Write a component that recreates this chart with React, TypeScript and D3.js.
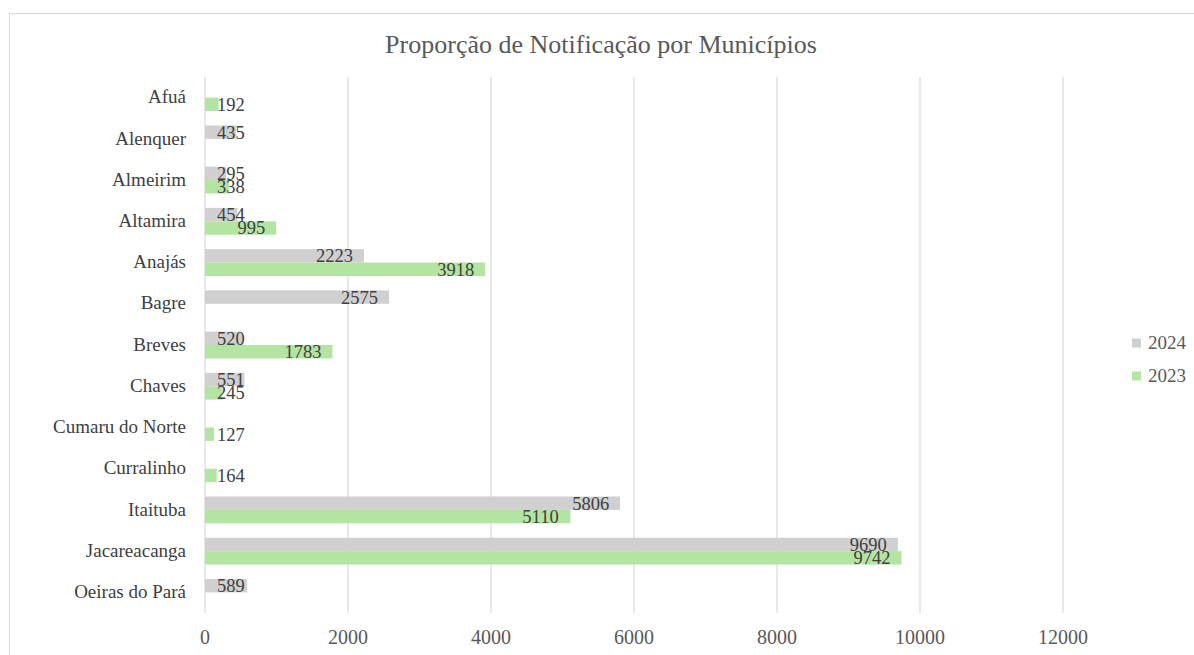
import React from 'react';
import * as d3 from 'd3';

const municipios = [
  'Afuá', 'Alenquer', 'Almeirim', 'Altamira', 'Anajás', 'Bagre', 'Breves',
  'Chaves', 'Cumaru do Norte', 'Curralinho', 'Itaituba', 'Jacareacanga', 'Oeiras do Pará',
];
// null = no bar for that year
const v2024 = [null, 435, 295, 454, 2223, 2575, 520, 551, null, null, 5806, 9690, 589];
const v2023 = [192, null, 338, 995, 3918, null, 1783, 245, 127, 164, 5110, 9742, null];
const ticks = [0, 2000, 4000, 6000, 8000, 10000, 12000];
const series = [
  { name: '2024', values: v2024, color: '#d0d0d0' },
  { name: '2023', values: v2023, color: '#b3e4a2' },
];

const W = 1194;
const H = 655;
const font = "'Liberation Serif', 'DejaVu Serif', serif";

export default function App() {
  const x = d3.scaleLinear().domain([0, 12000]).range([205, 1063]);
  const y = d3.scaleBand().domain(municipios).range([77, 613]);
  const barH = y.bandwidth() * 0.325;
  const labelSize = 18.5;

  return (
    <svg width={W} height={H} style={{ position: 'absolute', left: 0, top: 0, background: '#fff', fontFamily: font }}>
      <rect x={9.5} y={13.5} width={1200} height={700} fill="#fff" stroke="#d9d9d9" />
      <text x={601} y={53} textAnchor="middle" fontSize={26} fill="#595959">
        Proporção de Notificação por Municípios
      </text>

      {ticks.map((t) => (
        <g key={t}>
          {t > 0 && (
            <line x1={x(t)} x2={x(t)} y1={77} y2={613} stroke="#d9d9d9" strokeWidth={1.2} />
          )}
          <text x={x(t)} y={644} textAnchor="middle" fontSize={20} fill="#595959">
            {t}
          </text>
        </g>
      ))}
      <line x1={x(0)} x2={x(0)} y1={77} y2={613} stroke="#d9d9d9" strokeWidth={1.2} />

      {municipios.map((m) => (
        <text key={m} x={186} y={(y(m) as number) + y.bandwidth() / 2} dy="0.3em" textAnchor="end"
          fontSize={19} fill="#404040">
          {m}
        </text>
      ))}

      {series.map((s, si) =>
        s.values.map((v, i) => {
          if (v == null) return null;
          const cy = (y(municipios[i]) as number) + y.bandwidth() / 2;
          const top = si === 0 ? cy - barH : cy;
          const tw = String(v).length * labelSize * 0.5;
          const lx = Math.max(x(v) - 11 - tw, x(0) + 12);
          return (
            <g key={s.name + i}>
              <rect x={x(0)} y={top} width={x(v) - x(0)} height={barH} fill={s.color} />
              <text x={lx} y={top + barH / 2} dy="0.35em" fontSize={labelSize} fill="#404040">
                {v}
              </text>
            </g>
          );
        })
      )}

      {series.map((s, i) => (
        <g key={s.name} transform={`translate(1132, ${343 + i * 33})`}>
          <rect x={0} y={-4.5} width={9} height={9} fill={s.color} />
          <text x={16} y={0} dy="0.33em" fontSize={19} fill="#595959">
            {s.name}
          </text>
        </g>
      ))}
    </svg>
  );
}
